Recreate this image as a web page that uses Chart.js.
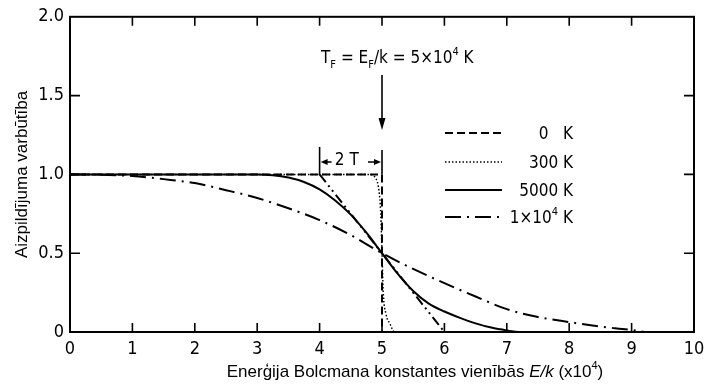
<!DOCTYPE html>
<html>
<head>
<meta charset="utf-8">
<script src="https://cdn.jsdelivr.net/npm/chart.js@4"></script>
<style>
  html, body { margin: 0; padding: 0; background: #fff; }
  #wrap { width: 706px; height: 390px; }
</style>
</head>
<body>
<div id="wrap"><canvas id="myChart" width="706" height="390"></canvas></div>
<script>
// values (energy in units of 10^4 K)
var energy0 = [0, 5, 5, 10];
var prob0 = [1, 1, 0, 0];

var energy300 = [0, 4.8, 4.89, 4.95, 4.98, 5.0, 5.02, 5.06, 5.13, 5.2, 10];
var prob300 = [1, 1, 0.98, 0.9, 0.75, 0.5, 0.25, 0.12, 0.05, 0, 0];

var energy5000 = [0, 3.0, 3.25, 3.5, 3.75, 4.0, 4.25, 4.5, 4.75, 5.0, 5.25, 5.5, 5.75, 6.0, 6.25, 6.5, 6.75, 7.0, 7.2, 10];
var prob5000 = [1, 1, 0.995, 0.98, 0.952, 0.905, 0.835, 0.745, 0.63, 0.5, 0.37, 0.26, 0.18, 0.13, 0.09, 0.055, 0.028, 0.01, 0, 0];

var energy1e4 = [0, 0.5, 1, 1.5, 2, 2.5, 3, 3.5, 4, 4.5, 5, 5.5, 6, 6.5, 7, 7.5, 8, 8.5, 9, 9.2];
var prob1e4 = [1, 0.998, 0.99, 0.97, 0.945, 0.9, 0.85, 0.785, 0.71, 0.615, 0.5, 0.4, 0.31, 0.225, 0.145, 0.095, 0.063, 0.034, 0.013, 0];

// tangent at E_F spanning 2T
var energyTan = [4, 6];
var probTan = [1, 0];

var xTicks = [0, 1, 2, 3, 4, 5, 6, 7, 8, 9, 10];
var yTicks = [0, 0.5, 1.0, 1.5, 2.0];

var DIN = '"DejaVu Sans Condensed", "Liberation Sans Narrow", sans-serif';
var SANS = '"Liberation Sans", Arial, sans-serif';

function pts(xs, ys) {
    return xs.map(function (x, i) { return {x: x, y: ys[i]}; });
}

var styles = {
    k0: [8, 4],
    k300: [1.5, 2],
    k5000: [],
    k1e4: [16, 6, 2, 6],
    tan: [10, 4, 2, 4, 2, 4]
};

// draw text made of pieces, some sub/superscript
function drawRuns(ctx, x, y, runs, size, family, align) {
    var small = Math.round(size * 0.65);
    var total = 0;
    runs.forEach(function (r) {
        ctx.font = (r.it ? 'italic ' : '') + (r.sub || r.sup ? small : size) + 'px ' + family;
        r.w = ctx.measureText(r.t).width;
        total += r.w;
    });
    var cx = align === 'right' ? x - total : (align === 'center' ? x - total / 2 : x);
    ctx.textBaseline = 'alphabetic';
    ctx.textAlign = 'left';
    runs.forEach(function (r) {
        ctx.font = (r.it ? 'italic ' : '') + (r.sub || r.sup ? small : size) + 'px ' + family;
        var dy = r.sub ? size * 0.3 : (r.sup ? -size * 0.45 : 0);
        ctx.fillText(r.t, cx, y + dy);
        cx += r.w;
    });
}

function arrowHead(ctx, x, y, dir, len, half) {
    // dir: 'down', 'left', 'right'
    ctx.beginPath();
    if (dir === 'down') {
        ctx.moveTo(x, y); ctx.lineTo(x - half, y - len); ctx.lineTo(x + half, y - len);
    } else if (dir === 'left') {
        ctx.moveTo(x, y); ctx.lineTo(x + len, y - half); ctx.lineTo(x + len, y + half);
    } else {
        ctx.moveTo(x, y); ctx.lineTo(x - len, y - half); ctx.lineTo(x - len, y + half);
    }
    ctx.closePath();
    ctx.fill();
}

var decor = {
    id: 'decor',
    afterDraw: function (chart) {
        var ctx = chart.ctx, a = chart.chartArea;
        var xs = chart.scales.x, ys = chart.scales.y;
        ctx.save();
        ctx.strokeStyle = '#000';
        ctx.fillStyle = '#000';
        ctx.setLineDash([]);

        // frame
        ctx.lineWidth = 2;
        ctx.strokeRect(a.left, a.top, a.right - a.left, a.bottom - a.top);

        // inward tick marks
        ctx.lineWidth = 1.6;
        ctx.beginPath();
        for (var i = 1; i < 10; i++) {
            var px = xs.getPixelForValue(i);
            ctx.moveTo(px, a.bottom); ctx.lineTo(px, a.bottom - 9);
            ctx.moveTo(px, a.top); ctx.lineTo(px, a.top + 9);
        }
        [0.5, 1.0, 1.5].forEach(function (v) {
            var py = ys.getPixelForValue(v);
            ctx.moveTo(a.left, py); ctx.lineTo(a.left + 10, py);
            ctx.moveTo(a.right, py); ctx.lineTo(a.right - 10, py);
        });
        ctx.stroke();

        // axis titles
        ctx.save();
        ctx.translate(22, (a.top + a.bottom) / 2);
        ctx.rotate(-Math.PI / 2);
        ctx.font = '17px ' + SANS;
        ctx.textAlign = 'center';
        ctx.textBaseline = 'middle';
        ctx.fillText('Aizpildījuma varbūtība', 0, 0);
        ctx.restore();

        drawRuns(ctx, 415, 377, [
            {t: 'Enerģija Bolcmana konstantes vienībās '},
            {t: 'E/k', it: true},
            {t: ' (x10'},
            {t: '4', sup: true},
            {t: ')'}
        ], 17, SANS, 'center');

        // Fermi temperature label and arrow
        var xf = xs.getPixelForValue(5);
        drawRuns(ctx, 321, 63, [
            {t: 'T'}, {t: 'F', sub: true}, {t: ' = E'}, {t: 'F', sub: true},
            {t: '/k = 5×10'}, {t: '4', sup: true}, {t: ' K'}
        ], 17, DIN, 'left');
        ctx.lineWidth = 1.6;
        ctx.beginPath();
        ctx.moveTo(xf, 75); ctx.lineTo(xf, 122);
        ctx.stroke();
        arrowHead(ctx, xf, 130, 'down', 12, 3.5);

        // 2T marker
        var x4 = xs.getPixelForValue(4);
        var y1 = ys.getPixelForValue(1);
        ctx.beginPath();
        ctx.moveTo(x4, 147); ctx.lineTo(x4, y1);
        ctx.moveTo(xf, 150); ctx.lineTo(xf, y1);
        ctx.moveTo(x4 + 4, 162); ctx.lineTo(x4 + 12, 162);
        ctx.moveTo(xf - 14, 162); ctx.lineTo(xf - 5, 162);
        ctx.stroke();
        arrowHead(ctx, x4 + 1, 162, 'left', 7, 3);
        arrowHead(ctx, xf - 1, 162, 'right', 7, 3);
        ctx.font = '17px ' + DIN;
        ctx.textAlign = 'center';
        ctx.textBaseline = 'middle';
        ctx.fillText('2 T', (x4 + xf) / 2 - 4, 161);

        // legend
        var rows = [
            {dash: styles.k0, w: 2, runs: [{t: '0   K'}], y: 133},
            {dash: styles.k300, w: 1.3, runs: [{t: '300 K'}], y: 162},
            {dash: styles.k5000, w: 1.8, runs: [{t: '5000 K'}], y: 190},
            {dash: styles.k1e4, w: 2, runs: [{t: '1×10'}, {t: '4', sup: true}, {t: ' K'}], y: 217}
        ];
        rows.forEach(function (r) {
            ctx.setLineDash(r.dash);
            ctx.lineWidth = r.w;
            ctx.beginPath();
            ctx.moveTo(445, r.y); ctx.lineTo(502, r.y);
            ctx.stroke();
            ctx.setLineDash([]);
            drawRuns(ctx, 573, r.y + 6, r.runs, 17, DIN, 'right');
        });
        ctx.restore();
    }
};

var common = {showLine: true, pointRadius: 0, borderColor: '#000', backgroundColor: '#000', fill: false};

var data = {
    datasets: [
        Object.assign({label: '0 K', data: pts(energy0, prob0), borderWidth: 2, borderDash: styles.k0, tension: 0}, common),
        Object.assign({label: '300 K', data: pts(energy300, prob300), borderWidth: 1.5, borderDash: styles.k300, cubicInterpolationMode: 'monotone'}, common),
        Object.assign({label: '5000 K', data: pts(energy5000, prob5000), borderWidth: 2, borderDash: styles.k5000, cubicInterpolationMode: 'monotone'}, common),
        Object.assign({label: '1×10⁴ K', data: pts(energy1e4, prob1e4), borderWidth: 2, borderDash: styles.k1e4, cubicInterpolationMode: 'monotone'}, common),
        Object.assign({label: '2T', data: pts(energyTan, probTan), borderWidth: 2, borderDash: styles.tan, tension: 0}, common)
    ]
};

var options = {
    responsive: false,
    animation: false,
    layout: {padding: {left: 0, right: 0, top: 15, bottom: 0}},
    plugins: {legend: {display: false}, tooltip: {enabled: false}},
    scales: {
        x: {
            type: 'linear', min: 0, max: 10,
            afterBuildTicks: function (s) { s.ticks = xTicks.map(function (v) { return {value: v}; }); },
            afterFit: function (s) { s.height = 58; s.paddingRight = 12; },
            grid: {display: false, drawTicks: false},
            border: {display: false},
            ticks: {color: '#000', font: {size: 18, family: DIN}, padding: 7, maxRotation: 0}
        },
        y: {
            type: 'linear', min: 0, max: 2,
            afterBuildTicks: function (s) { s.ticks = yTicks.map(function (v) { return {value: v}; }); },
            afterFit: function (s) { s.width = 70; },
            grid: {display: false, drawTicks: false},
            border: {display: false},
            ticks: {
                color: '#000', font: {size: 18, family: DIN}, padding: 6,
                callback: function (v) { return v === 0 ? '0' : v.toFixed(1); }
            }
        }
    }
};

var ctx = document.getElementById('myChart').getContext('2d');
var chart = new Chart(ctx, {type: 'scatter', data: data, options: options, plugins: [decor]});
</script>
</body>
</html>
